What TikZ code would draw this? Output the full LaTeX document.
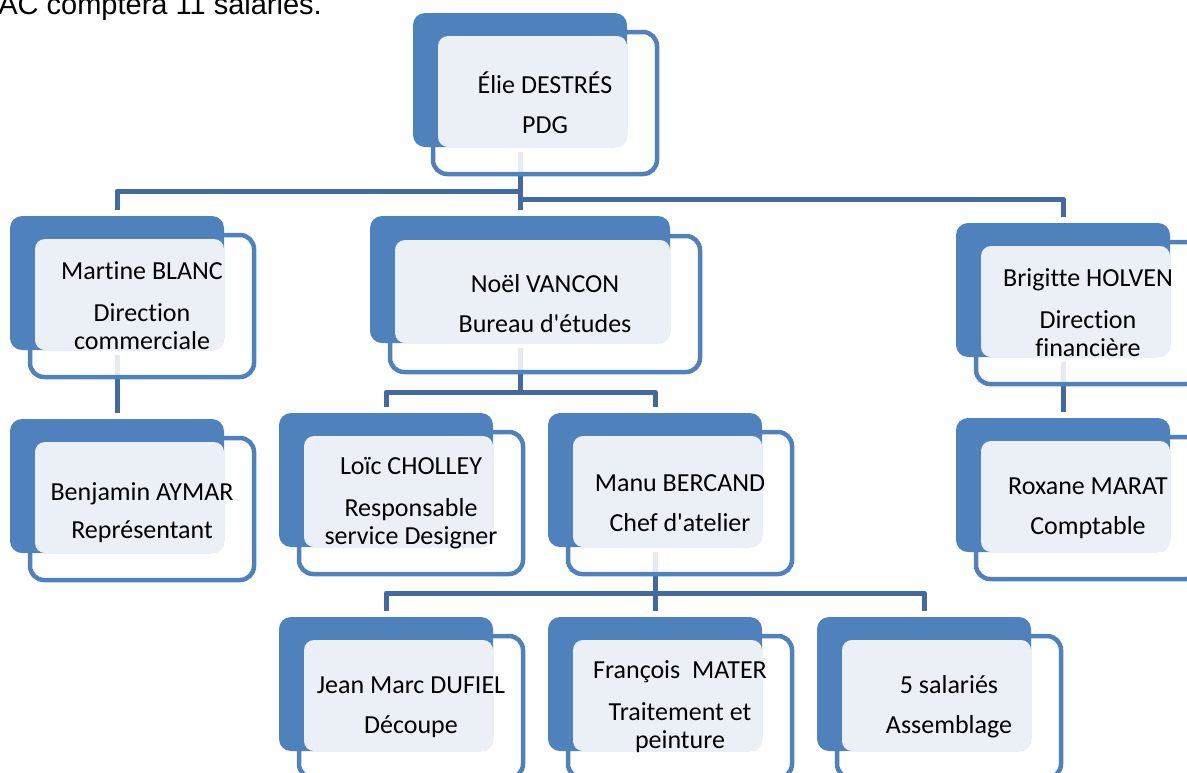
\documentclass[tikz,border=0pt]{standalone}
\usepackage{fontspec}
\setmainfont{Carlito}[Ligatures={TeXOff,CommonOff}]
\newfontfamily\arialfont{Liberation Sans}
\definecolor{accent}{RGB}{79,129,189}
\definecolor{panelc}{RGB}{235,240,247}
\definecolor{connc}{RGB}{67,106,160}
\pgfdeclarelayer{background}
\pgfsetlayers{background,main}
\begin{document}
\begin{tikzpicture}[x=0.5pt,y=-0.5pt,
  backbox/.style={rectangle, rounded corners=6pt, fill=accent, minimum width=107pt, minimum height=67pt, inner sep=0pt, outer sep=0pt, anchor=north west},
  frontbox/.style={rectangle, rounded corners=7pt, draw=accent, line width=2.25pt, fill=white, fill opacity=0.87, minimum width=112pt, minimum height=71pt, inner sep=0pt, outer sep=0pt, anchor=north west},
  panel/.style={rectangle, rounded corners=5pt, fill=panelc, minimum width=94.5pt, minimum height=55.5pt, inner sep=0pt, outer sep=0pt, anchor=south east},
  txt/.style={align=center, font=\fontsize{13pt}{14pt}\selectfont, inner sep=0pt, text=black},
  conn/.style={draw=connc, line width=2.5pt, line join=round}
]
\useasboundingbox (0,0) rectangle (1187,772);
\clip (0,0) rectangle (1187,772);

% note text
\node[anchor=base west, inner sep=0pt, font=\arialfont\fontsize{14.5pt}{16pt}\selectfont] (note) at (-2,14) {AC comptera 11 salariés.};

% front boxes
\node[frontbox] (pdgF) at (433,32) {};
\node[frontbox] (martF) at (30,235) {};
\node[frontbox] (benjF) at (30,438) {};
\node[frontbox, minimum width=155pt, minimum height=68pt] (noelF) at (390,236) {};
\node[frontbox] (brigF) at (976,242) {};
\node[frontbox] (roxF) at (976,437) {};
\node[frontbox] (loicF) at (299,432) {};
\node[frontbox] (manuF) at (568,432) {};
\node[frontbox] (jeanF) at (299,636) {};
\node[frontbox] (franF) at (568,636) {};
\node[frontbox] (salF) at (837,636) {};

% back boxes
\node[backbox] (pdgB) at (413,13) {};
\node[backbox] (martB) at (10,216) {};
\node[backbox] (benjB) at (10,419) {};
\node[backbox, minimum width=150pt, minimum height=63.5pt] (noelB) at (370,216) {};
\node[backbox] (brigB) at (956,223) {};
\node[backbox] (roxB) at (956,418) {};
\node[backbox] (loicB) at (279,413) {};
\node[backbox] (manuB) at (548,413) {};
\node[backbox] (jeanB) at (279,617) {};
\node[backbox] (franB) at (548,617) {};
\node[backbox] (salB) at (817,617) {};

% panels
\node[panel] (pdgP) at (pdgB.south east) {};
\node[panel] (martP) at (martB.south east) {};
\node[panel] (benjP) at (benjB.south east) {};
\node[panel, minimum width=137.5pt, minimum height=51.5pt] (noelP) at (noelB.south east) {};
\node[panel] (brigP) at (brigB.south east) {};
\node[panel] (roxP) at (roxB.south east) {};
\node[panel] (loicP) at (loicB.south east) {};
\node[panel] (manuP) at (manuB.south east) {};
\node[panel] (jeanP) at (jeanB.south east) {};
\node[panel] (franP) at (franB.south east) {};
\node[panel] (salP) at (salB.south east) {};

% texts
\node[txt] (pdg) at (pdgF.center) {Élie DESTRÉS\\[6pt]PDG};
\node[txt] (mart) at (martF.center) {Martine BLANC\\[7pt]Direction\\commerciale};
\node[txt] (benj) at ([yshift=-2pt]benjF.center) {Benjamin AYMAR\\[5pt]Représentant};
\node[txt] (noel) at (noelF.center) {Noël VANCON\\[6pt]Bureau d'études};
\node[txt] (brig) at (brigF.center) {Brigitte HOLVEN\\[7pt]Direction\\financière};
\node[txt] (rox) at (roxF.center) {Roxane MARAT\\[6pt]Comptable};
\node[txt] (loic) at (loicF.center) {Loïc CHOLLEY\\[7pt]Responsable\\service Designer};
\node[txt] (manu) at (manuF.center) {Manu BERCAND\\[6pt]Chef d'atelier};
\node[txt] (jean) at (jeanF.center) {Jean Marc DUFIEL\\[6pt]Découpe};
\node[txt] (fran) at (franF.center) {François\ \ MATER\\[7pt]Traitement et\\peinture};
\node[txt] (sal) at (salF.center) {5 salariés\\[6pt]Assemblage};

% connector end points
\foreach \u in {pdg,mart,noel,brig,manu} {
  \coordinate (\u out) at ([yshift=-2.5pt]\u B.south);
}
\foreach \u in {mart,benj,noel,brig,rox,loic,manu,jean,fran,sal} {
  \coordinate (\u in) at ([yshift=3pt]\u B.north);
}

\begin{pgfonlayer}{background}
\draw[conn] (pdgout) -- (pdgout |- 0,191) -| (martin);
\draw[conn] (pdgout) -- (noelin);
\draw[conn] (pdgout |- 0,199) -| (brigin);
\draw[conn] (martout) -- (benjin);
\draw[conn] (brigout) -- (roxin);
\draw[conn] (noelout) -- (noelout |- 0,392) -| (loicin);
\draw[conn] (noelout |- 0,392) -| (manuin);
\draw[conn] (manuout) -- (franin);
\draw[conn] (manuout |- 0,593) -| (jeanin);
\draw[conn] (manuout |- 0,593) -| (salin);
\end{pgfonlayer}
\end{tikzpicture}
\end{document}
